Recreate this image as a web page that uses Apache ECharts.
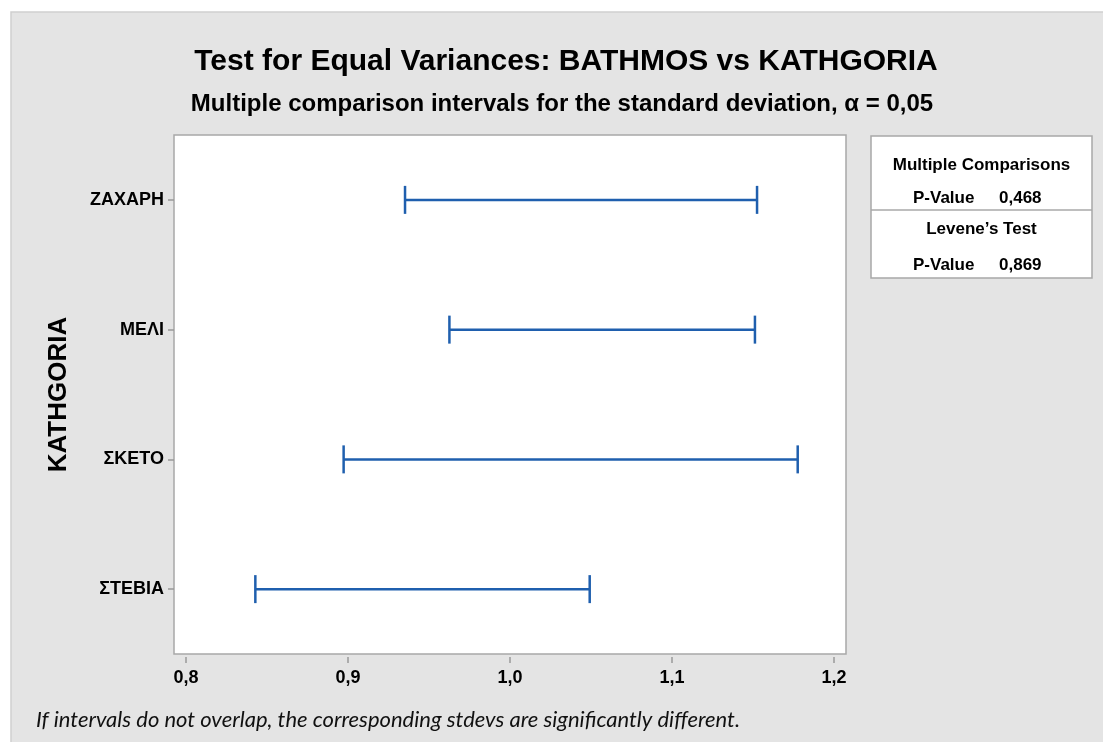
<!DOCTYPE html>
<html>
<head>
<meta charset="utf-8">
<script src="https://cdn.jsdelivr.net/npm/echarts@6/dist/echarts.min.js"></script>
<style>
  html, body { margin: 0; padding: 0; background: #fff; }
  #chart { width: 1103px; height: 742px; }
</style>
</head>
<body>
<div id="chart"></div>
<script>
// categories, top to bottom
const categories = ['ΖΑΧΑΡΗ', 'ΜΕΛΙ', 'ΣΚΕΤΟ', 'ΣΤΕΒΙΑ'];
// interval ends for the standard deviation
const lowerBounds = [0.9352, 0.9626, 0.8973, 0.8428];
const upperBounds = [1.1525, 1.1512, 1.1776, 1.0492];
const xTicks = [0.8, 0.9, 1.0, 1.1, 1.2];
const pLabels = ['P-Value', 'P-Value'];
const pValues = ['0,468', '0,869'];
const tableHeads = ['Multiple Comparisons', 'Levene\u2019s Test'];

const blue = '#1f5fae';
const font = '"Liberation Sans", Arial, sans-serif';

const chart = echarts.init(document.getElementById('chart'));

const data = categories.map((c, i) => [lowerBounds[i], upperBounds[i], i]);

// stats box on the right
const box = { x: 871, y: 136, w: 221, h: 142, split: 210 };
const cellFont = 'bold 17px ' + font;
const tableText = [];
[165, 229].forEach((y, i) => {
  tableText.push({
    type: 'text', x: box.x + box.w / 2, y: y,
    style: { text: tableHeads[i], font: cellFont, fill: '#000', align: 'center', verticalAlign: 'middle' }
  });
});
[198, 265].forEach((y, i) => {
  tableText.push({
    type: 'text', x: 913, y: y,
    style: { text: pLabels[i], font: cellFont, fill: '#000', align: 'left', verticalAlign: 'middle' }
  });
  tableText.push({
    type: 'text', x: 999, y: y,
    style: { text: pValues[i], font: cellFont, fill: '#000', align: 'left', verticalAlign: 'middle' }
  });
});

const option = {
  backgroundColor: '#fff',
  animation: false,
  graphic: [
    {
      type: 'rect',
      z: -10,
      shape: { x: 11, y: 12, width: 1100, height: 740 },
      style: { fill: '#e4e4e4', stroke: '#cfcfcf', lineWidth: 1.5 }
    },
    {
      type: 'text',
      x: 566, y: 62,
      style: {
        text: 'Test for Equal Variances: BATHMOS vs KATHGORIA',
        font: 'bold 30px ' + font, fill: '#000',
        align: 'center', verticalAlign: 'middle'
      }
    },
    {
      type: 'text',
      x: 562, y: 104,
      style: {
        text: 'Multiple comparison intervals for the standard deviation, \u03b1 = 0,05',
        font: 'bold 24px ' + font, fill: '#000',
        align: 'center', verticalAlign: 'middle'
      }
    },
    {
      type: 'rect',
      shape: { x: box.x, y: box.y, width: box.w, height: box.h },
      style: { fill: '#fff', stroke: '#a8a8a8', lineWidth: 1.5 }
    },
    {
      type: 'line',
      shape: { x1: box.x, y1: box.split, x2: box.x + box.w, y2: box.split },
      style: { stroke: '#a8a8a8', lineWidth: 1.5 }
    },
    ...tableText,
    {
      type: 'text',
      x: 36, y: 720,
      style: {
        text: 'If intervals do not overlap, the corresponding stdevs are significantly different.',
        font: 'italic 22px Lato, "Open Sans", sans-serif', fill: '#111',
        align: 'left', verticalAlign: 'middle'
      }
    }
  ],
  grid: {
    left: 174, right: 257, top: 135, bottom: 88,
    show: true,
    backgroundColor: '#fff',
    borderColor: '#a8a8a8',
    borderWidth: 1.5
  },
  xAxis: {
    type: 'value',
    min: 0.79259,
    max: 1.20741,
    offset: 3,
    axisLine: { show: false },
    splitLine: { show: false },
    axisTick: {
      show: true, length: 6, customValues: xTicks,
      lineStyle: { color: '#999', width: 1.5 }
    },
    axisLabel: {
      customValues: xTicks,
      margin: 12,
      color: '#000',
      fontFamily: font,
      fontWeight: 'bold',
      fontSize: 18,
      formatter: (v) => v.toFixed(1).replace('.', ',')
    }
  },
  yAxis: {
    type: 'category',
    data: categories,
    inverse: true,
    boundaryGap: true,
    name: 'KATHGORIA',
    nameLocation: 'middle',
    nameGap: 102,
    nameRotate: 90,
    nameTextStyle: { color: '#000', fontFamily: font, fontWeight: 'bold', fontSize: 26 },
    axisLine: { show: false },
    splitLine: { show: false },
    axisTick: {
      show: true, length: 6, alignWithLabel: true,
      lineStyle: { color: '#999', width: 1.5 }
    },
    axisLabel: {
      margin: 10,
      color: '#000',
      fontFamily: font,
      fontWeight: 'bold',
      fontSize: 18
    }
  },
  series: [
    {
      type: 'custom',
      data: data,
      encode: { x: [0, 1], y: 2 },
      renderItem: function (params, api) {
        const cat = api.value(2);
        const p1 = api.coord([api.value(0), cat]);
        const p2 = api.coord([api.value(1), cat]);
        const cap = 14;
        const style = { stroke: blue, lineWidth: 2.5 };
        return {
          type: 'group',
          children: [
            { type: 'line', shape: { x1: p1[0], y1: p1[1], x2: p2[0], y2: p2[1] }, style: style },
            { type: 'line', shape: { x1: p1[0], y1: p1[1] - cap, x2: p1[0], y2: p1[1] + cap }, style: style },
            { type: 'line', shape: { x1: p2[0], y1: p2[1] - cap, x2: p2[0], y2: p2[1] + cap }, style: style }
          ]
        };
      }
    }
  ]
};

chart.setOption(option);
</script>
</body>
</html>
